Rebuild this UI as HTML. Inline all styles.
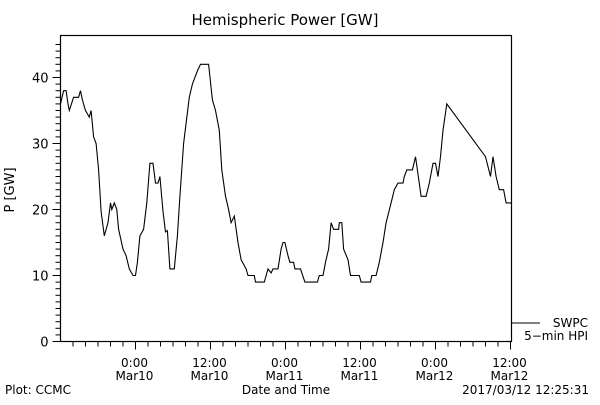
<!DOCTYPE html>
<html><head><meta charset="utf-8"><style>
html,body{margin:0;padding:0;background:#fff;}
svg text{font-family:"DejaVu Sans","Liberation Sans",sans-serif;fill:#000;}
</style></head><body>
<svg width="600" height="400" viewBox="0 0 600 400" xmlns="http://www.w3.org/2000/svg">
<rect width="600" height="400" fill="#fff"/>
<text x="285" y="25" font-size="15" text-anchor="middle">Hemispheric Power [GW]</text>
<rect x="60.5" y="35.5" width="451" height="306" fill="none" stroke="#000" stroke-width="1.2"/>
<g id="yaxis"></g>
<g id="xaxis"></g>
<text x="14" y="190" font-size="13" text-anchor="middle" transform="rotate(-90 14 190)">P [GW]</text>
<text x="286" y="394" font-size="12" text-anchor="middle">Date and Time</text>
<text x="5" y="394" font-size="12">Plot: CCMC</text>
<text x="589" y="394" font-size="12" text-anchor="end">2017/03/12 12:25:31</text>
<g>
<line x1="512" y1="323" x2="540" y2="323" stroke="#000" stroke-width="1"/>
<text x="588" y="327" font-size="12" text-anchor="end">SWPC</text>
<text x="588" y="340" font-size="12" text-anchor="end">5−min HPI</text>
</g>
<polyline id="series" fill="none" stroke="#000" stroke-width="1.1"/>
</svg>
<script>
// hours relative to 2017-03-10 00:00
const times = [-12,-11.5,-11.1,-10.8,-10.6,-9.9,-9.1,-8.8,-8.5,-8.0,-7.4,-7.1,-6.7,-6.3,-5.9,-5.5,-5.0,-4.4,-4.0,-3.8,-3.4,-3.0,-2.7,-2.0,-1.5,-1.0,-0.4,0,0.3,0.7,1.3,1.8,2.3,2.8,3.2,3.6,3.9,4.4,4.8,5.1,5.5,5.7,6.2,6.7,7.1,7.7,8.6,9.1,9.9,10.4,11.7,12.3,12.8,13.4,13.8,14.4,14.9,15.3,15.8,16.4,16.9,17.7,18.0,19.0,19.2,20.6,21.2,21.7,22.0,22.8,23.3,23.6,23.9,24.4,24.7,25.3,25.5,26.4,27.1,29.1,29.4,30.0,30.4,30.9,31.3,31.7,32.5,32.6,33.0,33.3,34.0,34.4,35.8,36.1,37.6,37.8,38.5,39.0,39.6,40.1,40.9,41.4,42.0,42.8,43.0,43.4,44.3,44.8,45.1,45.7,46.5,47.0,47.6,48.0,48.4,48.8,49.2,49.8,56.0,56.8,57.2,57.7,58.2,58.9,59.3,60.1];
const powerGW = [36,38,38,36,35,37,37,38,36.6,35,34,35,31,30,26,19.7,16,18,21,20,21,20,17,14,13,11,10,10,12,16,17,21,27,27,24,24,25,19.7,16.6,16.8,11,11,11,16,22,30,37,39,41,42,42,36.6,35,32,26,22,20,18,19,15,12.4,11,10,10,9,9,11,10.4,11,11,14,15,15,13,12,12,11,11,9,9,10,10,12,14,18,17,17,18,18,14,12.4,10,10,9,9,10,10,12,15,18,21,23,24,24,25,26,26,28,26,22,22,24,27,27,25,28,32,36,28,25,28,25,23,23,21,21];
const yTickLabels = ["0","10","20","30","40"];
const yTickValues = [0,10,20,30,40];
const xTickHours = [0,12,24,36,48,60];
const xTickTimes = ["0:00","12:00","0:00","12:00","0:00","12:00"];
const xTickDates = ["Mar10","Mar10","Mar11","Mar11","Mar12","Mar12"];

const NS="http://www.w3.org/2000/svg";
const X0=60.5, X1=511.5, Y0=341.5, PPU=6.6;
const T0=-12, T1=60.16;
function xs(t){return X0+(t-T0)/(T1-T0)*(X1-X0);}
function ys(v){return Y0-v*PPU;}
function mk(tag,attrs,parent){const e=document.createElementNS(NS,tag);for(const k in attrs)e.setAttribute(k,attrs[k]);parent.appendChild(e);return e;}

const ya=document.getElementById('yaxis');
for(let v=0;v<=45;v++){
  const major=v%10===0;
  const t=mk('line',{x1:X0-(major?8:5),x2:X0,y1:ys(v),y2:ys(v),stroke:'#000','stroke-width':1},ya);
  
  
}
yTickValues.forEach((v,i)=>{
  const tx=mk('text',{x:X0-12,y:ys(v)+5,'font-size':13,'text-anchor':'end'},ya);
  tx.textContent=yTickLabels[i];
  
  
});
const xa=document.getElementById('xaxis');
for(let h=-10;h<=60;h+=2){
  const major=h%12===0;
  const t=mk('line',{x1:xs(h),x2:xs(h),y1:Y0,y2:Y0+(major?8:5),stroke:'#000','stroke-width':1},xa);
  
  
}
xTickHours.forEach((h,i)=>{
  const a=mk('text',{x:xs(h)-1,y:367,'font-size':12,'text-anchor':'middle'},xa);
  a.textContent=xTickTimes[i];
  
  
  const b=mk('text',{x:xs(h)-1,y:380,'font-size':12,'text-anchor':'middle'},xa);
  b.textContent=xTickDates[i];
  
  
});
document.getElementById('series').setAttribute('points', times.map((t,i)=>xs(t).toFixed(1)+','+ys(powerGW[i]).toFixed(1)).join(' '));
</script>
</body></html>
